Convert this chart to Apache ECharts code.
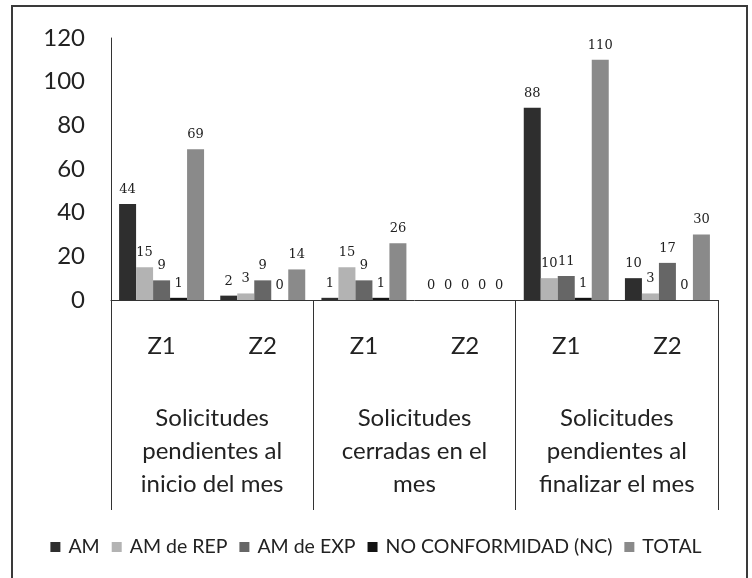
<!DOCTYPE html>
<html>
<head>
<meta charset="utf-8">
<script src="https://cdn.jsdelivr.net/npm/echarts@6/dist/echarts.min.js"></script>
<style>html,body{margin:0;padding:0;background:#fff}#c{width:752px;height:578px}</style>
</head>
<body>
<div id="c"></div>
<script>
const zones = ['Z1', 'Z2', 'Z1', 'Z2', 'Z1', 'Z2'];
const groups = ['Solicitudes\npendientes al\ninicio del mes', 'Solicitudes\ncerradas en el\nmes', 'Solicitudes\npendientes al\nfinalizar el mes'];
const seriesNames = ['AM', 'AM de REP', 'AM de EXP', 'NO CONFORMIDAD (NC)', 'TOTAL'];
const amValues = [44, 2, 1, 0, 88, 10];
const repValues = [15, 3, 15, 0, 10, 3];
const expValues = [9, 9, 9, 0, 11, 17];
const ncValues = [1, 0, 1, 0, 1, 0];
const totalValues = [69, 14, 26, 0, 110, 30];
const yTicks = [0, 20, 40, 60, 80, 100, 120];

const colors = ['#2e2e2e', '#b3b3b3', '#666666', '#141414', '#8a8a8a'];
const allValues = [amValues, repValues, expValues, ncValues, totalValues];

const chart = echarts.init(document.getElementById('c'));
const labelFont = { fontFamily: 'Lato', color: '#222' };
chart.setOption({
  animation: false,
  backgroundColor: '#fff',
  graphic: [{
    type: 'rect', shape: { x: 12, y: 6, width: 735, height: 600 },
    style: { fill: 'none', stroke: '#3a3a3a', lineWidth: 2 }, silent: true, z: 100
  }],
  legend: {
    data: seriesNames,
    left: 'center', top: 532,
    itemWidth: 10, itemHeight: 10, itemGap: 12,
    icon: 'rect',
    textStyle: { fontFamily: 'Lato', fontSize: 19.5, color: '#222', padding: [0, 0, 0, 3] }
  },
  grid: { left: 111, right: 34, top: 38, bottom: 278, containLabel: false },
  xAxis: [{
    type: 'category', data: zones, position: 'bottom',
    axisLine: { show: true, lineStyle: { color: '#333', width: 1 } },
    axisTick: { show: false },
    axisLabel: Object.assign({ fontSize: 24, margin: 34, interval: 0 }, labelFont)
  }, {
    type: 'category', data: groups, position: 'bottom',
    axisLine: { show: false },
    axisTick: { show: true, length: 210, interval: 0, lineStyle: { color: '#333', width: 1 } },
    axisLabel: Object.assign({ fontSize: 24, margin: 102, lineHeight: 33, interval: 0, align: 'center' }, labelFont)
  }],
  yAxis: {
    type: 'value', min: yTicks[0], max: yTicks[yTicks.length - 1], interval: 20,
    axisLine: { show: true, lineStyle: { color: '#333', width: 1 } },
    axisTick: { show: false },
    splitLine: { show: false },
    axisLabel: Object.assign({ fontSize: 24, margin: 26 }, labelFont)
  },
  series: seriesNames.map((name, i) => ({
    name, type: 'bar', xAxisIndex: 0,
    data: allValues[i],
    barGap: '0%', barCategoryGap: '16%',
    itemStyle: { color: colors[i] },
    label: {
      show: true, position: 'top', distance: 8,
      fontFamily: 'DejaVu Serif', fontSize: 13, color: '#222'
    }
  }))
});
</script>
</body>
</html>
